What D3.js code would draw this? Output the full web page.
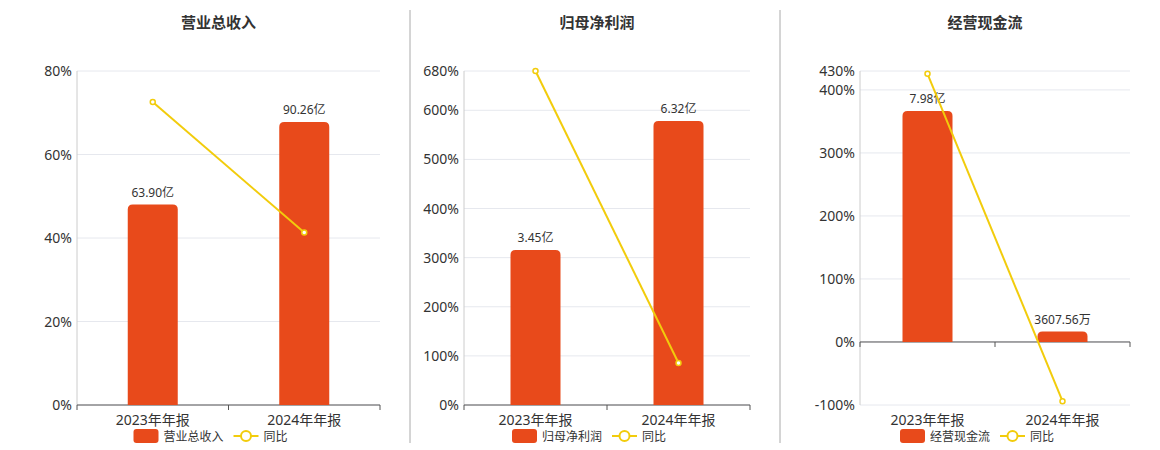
<!DOCTYPE html><html><head><meta charset="utf-8"><script src="https://cdn.jsdelivr.net/npm/d3@7"></script>
<style>body{margin:0;background:#fff;font-family:"Noto Sans","Noto Sans CJK SC",sans-serif}</style></head><body><svg id="c" width="1160" height="450"></svg>
<script>
const categories=["2023年年报","2024年年报"];
const titles=["营业总收入","归母净利润","经营现金流"];
const barValues=[[63.90,90.26],[3.45,6.32],[7.98,0.360756]];
const barLabels=[["63.90亿","90.26亿"],["3.45亿","6.32亿"],["7.98亿","3607.56万"]];
const yoyValues=[[72.6,41.3],[680,85.5],[425.6,-94]];
const yTicks=[[0,20,40,60,80],[0,100,200,300,400,500,600,680],[-100,0,100,200,300,400,430]];
const yDomains=[[0,80],[0,680],[-100,430]];
const barDomains=[[0,106.5],[0,7.43],[-2.177,9.36]];
const panels=[{x0:77,x1:380},{x0:464,x1:750},{x0:860,x1:1130}];
const svg=d3.select("#c");
const yTop=71,yBot=405,barC="#E84A1B",lineC="#F2CC0C";
[410,780].forEach(x=>svg.append("line").attr("x1",x).attr("x2",x).attr("y1",10).attr("y2",443).attr("stroke","#aaa"));
panels.forEach((p,i)=>{
  const g=svg.append("g");
  const x=d3.scaleBand().domain(categories).range([p.x0,p.x1]);
  const y=d3.scaleLinear().domain(yDomains[i]).range([yBot,yTop]);
  const yb=d3.scaleLinear().domain(barDomains[i]).range([yBot,yTop]);
  const cx=(p.x0+p.x1)/2;
  g.append("text").attr("x",cx-10).attr("y",28).attr("text-anchor","middle").attr("font-size",15).attr("font-weight","bold").attr("fill","#333").text(titles[i]);
  yTicks[i].forEach(t=>{
    g.append("line").attr("x1",p.x0).attr("x2",p.x1).attr("y1",y(t)).attr("y2",y(t)).attr("stroke","#e6e8ee");
    g.append("text").attr("x",p.x0-5).attr("y",y(t)+5).attr("text-anchor","end").attr("font-size",14).attr("fill","#333").text(t+"%");
  });
  g.append("line").attr("x1",p.x0).attr("x2",p.x0).attr("y1",yTop).attr("y2",yBot).attr("stroke","#ccc");
  const z=y(Math.max(0,yDomains[i][0]));
  g.append("line").attr("x1",p.x0).attr("x2",p.x1).attr("y1",z).attr("y2",z).attr("stroke","#555");
  [p.x0,cx,p.x1].forEach(t=>g.append("line").attr("x1",t).attr("x2",t).attr("y1",z).attr("y2",z+5).attr("stroke","#555"));
  categories.forEach((c,j)=>{
    const bx=x(c)+x.bandwidth()/2, v=barValues[i][j], yt=yb(v), y0=yb(0);
    g.append("path").attr("fill",barC).attr("d",`M${bx-25},${y0}V${yt+5}Q${bx-25},${yt} ${bx-20},${yt}H${bx+20}Q${bx+25},${yt} ${bx+25},${yt+5}V${y0}Z`);
    g.append("text").attr("x",bx).attr("y",yt-8).attr("text-anchor","middle").attr("font-size",12).attr("fill","#333").text(barLabels[i][j]);
    g.append("text").attr("x",bx).attr("y",425).attr("text-anchor","middle").attr("font-size",14).attr("fill","#333").text(c);
  });
  const line=d3.line().x(d=>x(d[0])+x.bandwidth()/2).y(d=>y(d[1]));
  const pts=categories.map((c,j)=>[c,yoyValues[i][j]]);
  g.append("path").attr("d",line(pts)).attr("fill","none").attr("stroke",lineC).attr("stroke-width",2);
  pts.forEach(d=>g.append("circle").attr("cx",x(d[0])+x.bandwidth()/2).attr("cy",y(d[1])).attr("r",2.5).attr("fill","#fff").attr("stroke",lineC).attr("stroke-width",1.5));
  const lx=cx-95;
  g.append("rect").attr("x",lx).attr("y",429).attr("width",25).attr("height",14).attr("rx",3).attr("fill",barC);
  g.append("text").attr("x",lx+30).attr("y",441).attr("font-size",12).attr("fill","#333").text(titles[i]);
  const l2=lx+30+titles[i].length*12+10;
  g.append("line").attr("x1",l2).attr("x2",l2+25).attr("y1",436).attr("y2",436).attr("stroke",lineC).attr("stroke-width",2);
  g.append("circle").attr("cx",l2+12.5).attr("cy",436).attr("r",5).attr("fill","#fff").attr("stroke",lineC).attr("stroke-width",2);
  g.append("text").attr("x",l2+30).attr("y",441).attr("font-size",12).attr("fill","#333").text("同比");
});
</script></body></html>
